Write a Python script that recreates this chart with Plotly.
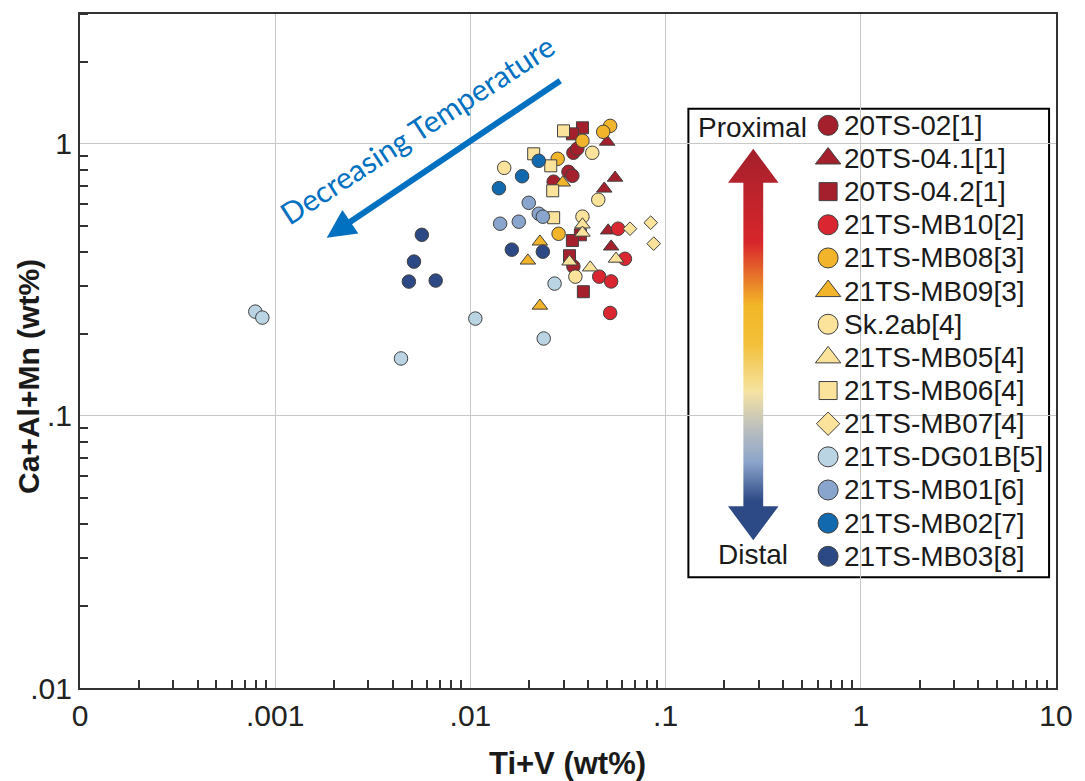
import base64
import plotly.graph_objects as go

# ---------------- data ----------------
series_names = ["20TS-02[1]", "20TS-04.1[1]", "20TS-04.2[1]", "21TS-MB10[2]",
                "21TS-MB08[3]", "21TS-MB09[3]", "Sk.2ab[4]", "21TS-MB05[4]",
                "21TS-MB06[4]", "21TS-MB07[4]", "21TS-DG01B[5]", "21TS-MB01[6]",
                "21TS-MB02[7]", "21TS-MB03[8]"]

ts02_x = [0.0337, 0.0353, 0.0318, 0.0333, 0.0267, 0.0337]
ts02_y = [0.927, 0.959, 0.789, 0.763, 0.726, 0.354]
ts041_x = [0.0502, 0.0551, 0.0485, 0.0508, 0.0526]
ts041_y = [1.017, 0.750, 0.684, 0.480, 0.419]
ts042_x = [0.0375, 0.0333, 0.0366, 0.0333, 0.0322, 0.0379]
ts042_y = [1.145, 1.088, 0.463, 0.441, 0.388, 0.286]
mb10_x = [0.0571, 0.0619, 0.0457, 0.0526, 0.0520]
mb10_y = [0.4875, 0.378, 0.325, 0.312, 0.239]
mb08_x = [0.0520, 0.0479, 0.0375, 0.0280, 0.0283]
mb08_y = [1.164, 1.107, 1.026, 0.881, 0.467]
mb09_x = [0.0297, 0.0227, 0.0197, 0.0227]
mb09_y = [0.720, 0.437, 0.372, 0.254]
sk2ab_x = [0.0421, 0.0149, 0.0452, 0.0375, 0.0345]
sk2ab_y = [0.927, 0.816, 0.623, 0.540, 0.325]
mb05_x = [0.0375, 0.0375, 0.0322, 0.0411, 0.0557]
mb05_y = [0.505, 0.471, 0.369, 0.351, 0.378]
mb06_x = [0.0300, 0.0211, 0.0258, 0.0264, 0.0267]
mb06_y = [1.116, 0.919, 0.830, 0.672, 0.535]
mb07_x = [0.0657, 0.0839, 0.0869]
mb07_y = [0.4875, 0.513, 0.4296]
dg01b_x = [0.000791, 0.000859, 0.00441, 0.0106, 0.0270, 0.02375]
dg01b_y = [0.2417, 0.2298, 0.1626, 0.2279, 0.3064, 0.1925]
mb01_x = [0.0199, 0.0224, 0.0235, 0.0177, 0.0142]
mb01_y = [0.607, 0.5535, 0.5397, 0.5173, 0.5086]
mb02_x = [0.0140, 0.0184, 0.0224]
mb02_y = [0.687, 0.760, 0.866]
mb03_x = [0.00564, 0.00514, 0.00484, 0.00664, 0.0163, 0.0235]
mb03_y = [0.463, 0.369, 0.3116, 0.3143, 0.4083, 0.4013]

series_x = [ts02_x, ts041_x, ts042_x, mb10_x, mb08_x, mb09_x, sk2ab_x, mb05_x,
            mb06_x, mb07_x, dg01b_x, mb01_x, mb02_x, mb03_x]
series_y = [ts02_y, ts041_y, ts042_y, mb10_y, mb08_y, mb09_y, sk2ab_y, mb05_y,
            mb06_y, mb07_y, dg01b_y, mb01_y, mb02_y, mb03_y]

x_tickvals = [1e-4, 1e-3, 1e-2, 1e-1, 1, 10]
x_ticktext = ["0", ".001", ".01", ".1", "1", "10"]
y_tickvals = [0.01, 0.1, 1]
y_ticktext = [".01", ".1", "1"]

# ---------------- styles ----------------
DARKRED = "#A3202C"
RED = "#D92631"
YELLOW = "#F2B42A"
BEIGE = "#FBE39C"
LIGHTBLUE = "#BAD4E4"
C_MB01 = "#8AA5CD"
C_MB02 = "#1369AD"
C_MB03 = "#2C4985"

colors = [DARKRED, DARKRED, DARKRED, RED, YELLOW, YELLOW, BEIGE, BEIGE, BEIGE, BEIGE,
          LIGHTBLUE, C_MB01, C_MB02, C_MB03]
symbols = ["circle", "triangle-up", "square", "circle", "circle", "triangle-up", "circle",
           "triangle-up", "square", "diamond", "circle", "circle", "circle", "circle"]
data_size = {"circle": 13.5, "triangle-up": 13.5, "square": 12, "diamond": 10.5}
legend_size = {"circle": 20, "triangle-up": 22, "square": 18, "diamond": 18}

FONT = "Liberation Sans, Arial, sans-serif"
OUTLINE = "#404040"

W, H = 1085, 781
ML, MR, MT, MB = 80, 20, 13, 93
PW, PH = W - ML - MR, H - MT - MB


def px(xp):
    return (xp - ML) / PW


def py(yp):
    return (H - MB - yp) / PH


fig = go.Figure()

for name, xs, ys, c, s in zip(series_names, series_x, series_y, colors, symbols):
    fig.add_trace(go.Scatter(
        x=xs, y=ys, mode="markers", name=name, showlegend=False,
        marker=dict(color=c, symbol=s, size=data_size[s], opacity=1,
                    line=dict(color=OUTLINE, width=1)),
        xaxis="x", yaxis="y"))

# legend swatches (drawn on an invisible overlay axis, one row per series)
row_first, row_step = 124.5, 33.2
rows = list(range(len(series_names)))
fig.add_trace(go.Scatter(
    x=[px(835)] * len(rows), y=rows, mode="markers", showlegend=False,
    hoverinfo="skip",
    marker=dict(color=colors, symbol=symbols, size=[legend_size[s] for s in symbols],
                opacity=1, line=dict(color=OUTLINE, width=1)),
    xaxis="x2", yaxis="y2"))

minor_x = [k * 10.0 ** e for e in range(-4, 1) for k in range(2, 10)]
minor_y = [k * 10.0 ** e for e in range(-2, 1) for k in range(2, 10) if k * 10.0 ** e < 3.01]

axis_common = dict(
    type="log", showgrid=True, gridcolor="#c8c8c8", gridwidth=1,
    showline=True, linecolor="#333333", linewidth=2, mirror=True,
    ticks="", zeroline=False, tickmode="array",
    tickfont=dict(family=FONT, size=30, color="#222222"),
)

fig.update_layout(
    width=W, height=H,
    margin=dict(l=ML, r=MR, t=MT, b=MB),
    plot_bgcolor="white", paper_bgcolor="white",
    showlegend=False,
    xaxis=dict(axis_common, range=[-4, 1], tickvals=x_tickvals, ticktext=x_ticktext,
               minor=dict(tickmode="array", tickvals=minor_x, ticks="inside", ticklen=8,
                          tickwidth=1.6, tickcolor="#333333", showgrid=False)),
    yaxis=dict(axis_common, range=[-2, 0.4771], tickvals=y_tickvals, ticktext=y_ticktext,
               ticklabelstandoff=0,
               minor=dict(tickmode="array", tickvals=minor_y, ticks="inside", ticklen=8,
                          tickwidth=1.6, tickcolor="#333333", showgrid=False)),
    xaxis2=dict(overlaying="x", range=[0, 1], visible=False, fixedrange=True),
    yaxis2=dict(overlaying="y", visible=False, fixedrange=True,
                range=[(H - MB - row_first) / row_step, (MT - row_first) / row_step]),
)

# legend box (white, above gridlines)
fig.add_shape(type="rect", xref="paper", yref="paper",
              x0=px(694), x1=px(1058), y0=py(577), y1=py(108),
              fillcolor="white", line=dict(color="black", width=2), layer="between")

# gradient arrow image
svg = (
    '<svg xmlns="http://www.w3.org/2000/svg" width="51" height="392" viewBox="0 0 51 392" '
    'preserveAspectRatio="none">'
    '<defs><linearGradient id="g" x1="0" y1="0" x2="0" y2="1">'
    '<stop offset="0" stop-color="#A3202C"/>'
    '<stop offset="0.24" stop-color="#D8262B"/>'
    '<stop offset="0.33" stop-color="#E8772A"/>'
    '<stop offset="0.40" stop-color="#F2B627"/>'
    '<stop offset="0.50" stop-color="#F3C03A"/>'
    '<stop offset="0.62" stop-color="#F6E3A2"/>'
    '<stop offset="0.71" stop-color="#BEC0BC"/>'
    '<stop offset="0.80" stop-color="#8CA5CB"/>'
    '<stop offset="0.90" stop-color="#2E4A86"/>'
    '<stop offset="1" stop-color="#2B4A85"/>'
    '</linearGradient></defs>'
    '<path d="M25.5,0 L51,34 L35.5,34 L35.5,358 L51,358 L25.5,392 L0,358 L15.5,358 '
    'L15.5,34 L0,34 Z" fill="url(#g)"/></svg>'
)
src = "data:image/svg+xml;base64," + base64.b64encode(svg.encode()).decode()
fig.add_layout_image(dict(source=src, xref="paper", yref="paper",
                          x=px(734), y=py(148), sizex=51 / PW, sizey=392 / PH,
                          xanchor="left", yanchor="top", sizing="stretch",
                          layer="above"))

ann_font = dict(family=FONT, size=28, color="#1a1a1a")
for i, name in zip(rows, series_names):
    fig.add_annotation(text=name, xref="paper", yref="y2", x=px(849), y=i,
                       xanchor="left", yanchor="middle", showarrow=False, font=ann_font)

fig.add_annotation(text="Proximal", xref="paper", yref="paper", x=px(759), y=py(127),
                   xanchor="center", yanchor="middle", showarrow=False, font=ann_font)
fig.add_annotation(text="Distal", xref="paper", yref="paper", x=px(759), y=py(554),
                   xanchor="center", yanchor="middle", showarrow=False, font=ann_font)

# axis titles
title_font = dict(family=FONT, size=31, color="#1a1a1a", weight="bold")
fig.add_annotation(text="Ti+V (wt%)", xref="paper", yref="paper", x=px(572), y=py(764),
                   xanchor="center", yanchor="middle", showarrow=False, font=title_font)
fig.add_annotation(text="Ca+Al+Mn (wt%)", xref="paper", yref="paper", x=px(28), y=py(376),
                   xanchor="center", yanchor="middle", textangle=-90, showarrow=False,
                   font=dict(title_font, size=30))

# decreasing temperature arrow + label
BLUE = "#0070C0"
fig.add_annotation(text="", xref="paper", yref="paper", x=px(329), y=py(237),
                   ax=564 - 329, ay=79 - 237, showarrow=True, arrowhead=2,
                   arrowsize=0.95, arrowwidth=6, arrowcolor=BLUE, standoff=0)
fig.add_annotation(text="Decreasing Temperature", xref="paper", yref="paper",
                   x=px(420), y=py(128), textangle=-33, showarrow=False,
                   xanchor="center", yanchor="middle",
                   font=dict(family="Lato, Open Sans, sans-serif", size=30, color=BLUE))

fig.write_html("out.html")
